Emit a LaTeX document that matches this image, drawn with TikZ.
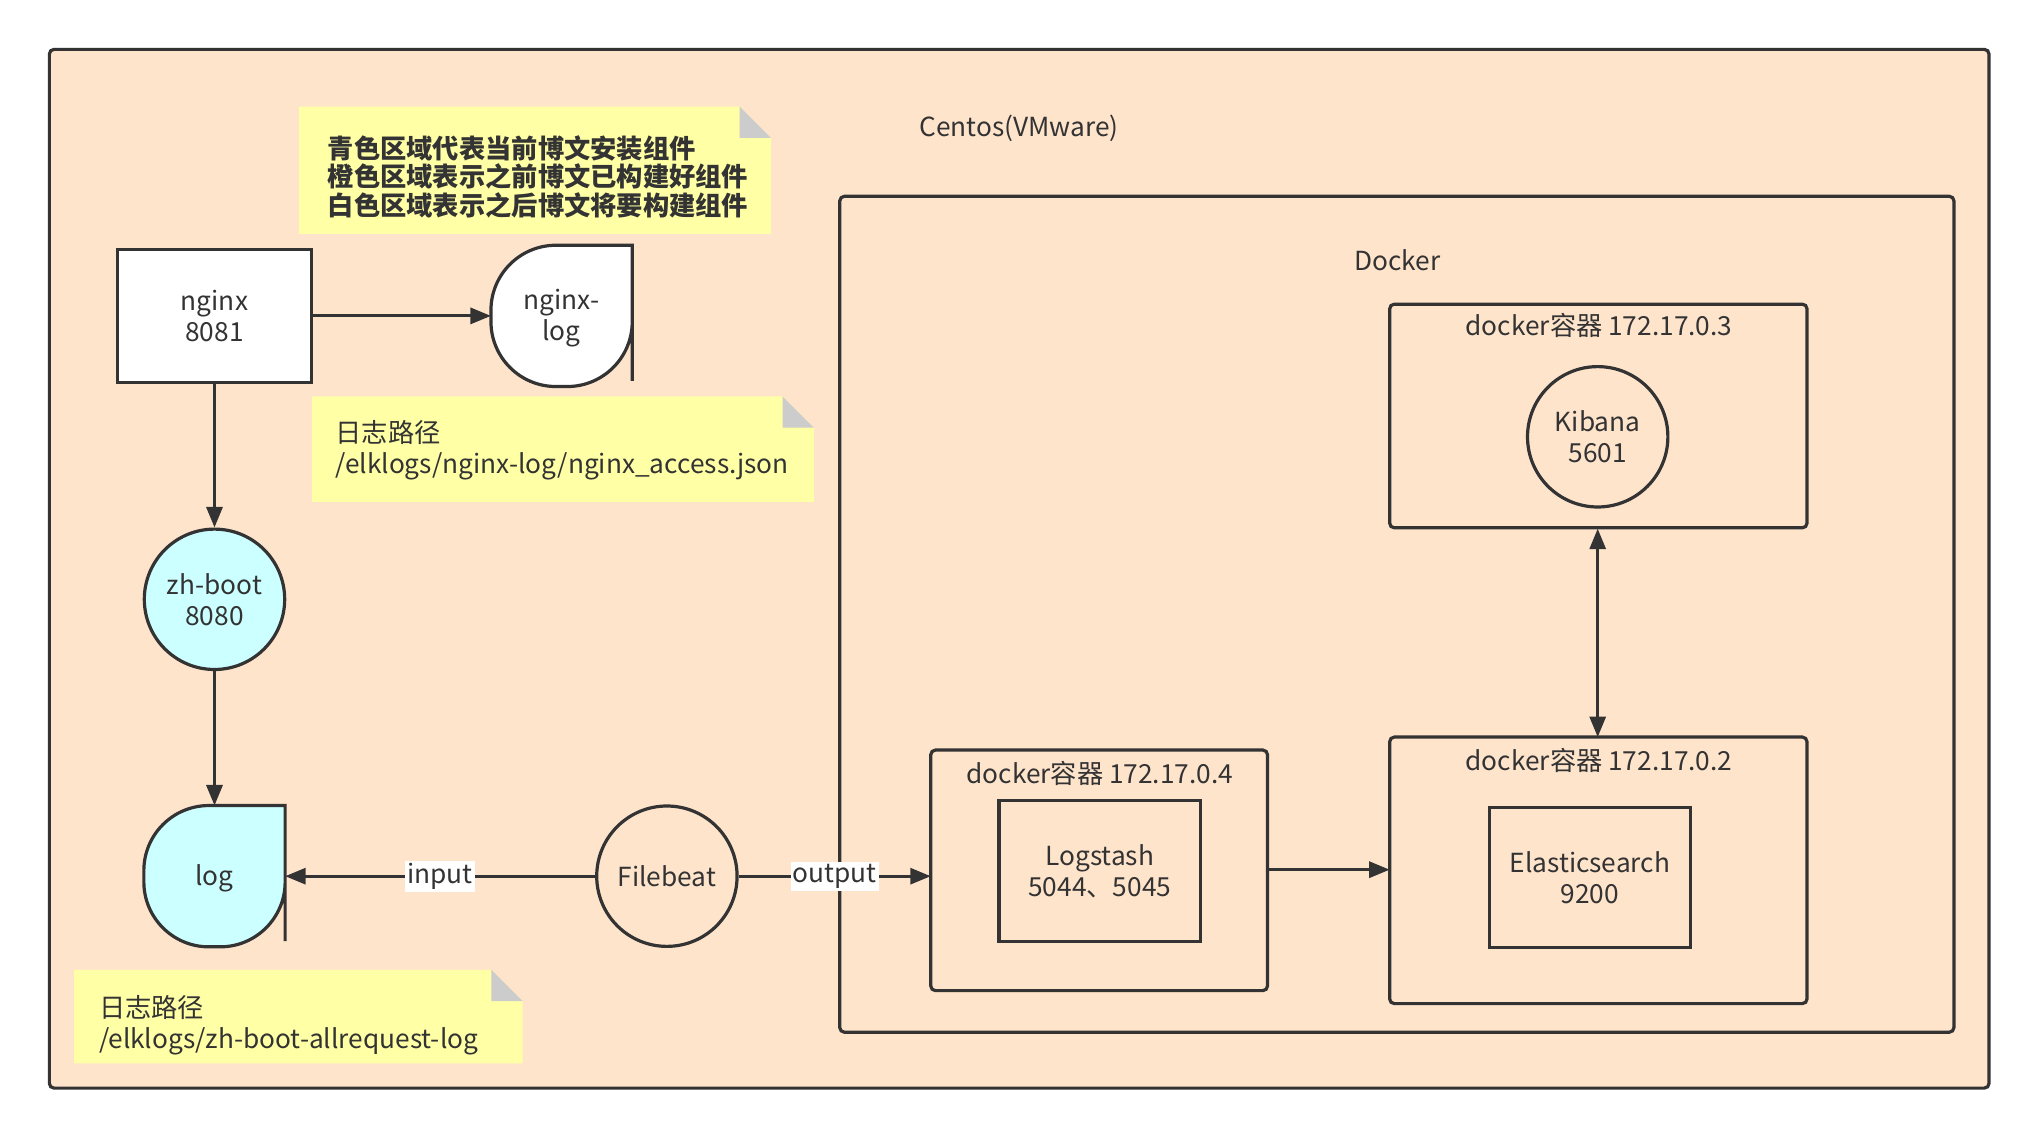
\documentclass[tikz,border=0pt]{standalone}
\usepackage{fontspec}
\setmainfont{Noto Sans CJK SC}
\usetikzlibrary{arrows.meta}
\definecolor{peach}{HTML}{FFE4CC}
\definecolor{notey}{HTML}{FFFFA6}
\definecolor{cyanf}{HTML}{CCFFFF}
\definecolor{linec}{HTML}{333333}
\begin{document}
\begin{tikzpicture}[x=0.02cm,y=-0.02cm,font=\fontsize{11.5}{13.6}\selectfont]
\tikzstyle{frame}=[draw=linec, line width=1.4pt, rounded corners=2pt]
\tikzstyle{box}=[draw=linec, line width=1.4pt, align=center, text=linec]
\tikzstyle{place}=[circle, draw=linec, line width=1.4pt, minimum size=2.16cm, align=center, text=linec]
\tikzstyle{logbox}=[minimum width=2.16cm, minimum height=2.16cm, align=center, text=linec]
\tikzstyle{arr}=[draw=linec, line width=1.4pt, -{Triangle[length=9pt,width=7pt]}]
\tikzstyle{note}=[fill=notey]
\tikzstyle{txt}=[text=linec, align=left, anchor=west]

\useasboundingbox[fill=white] (0,0) rectangle (1560,871);

% Frames
\draw[frame, fill=peach] (38,38) rectangle (1530,837);
\node at (784,99) [txt, anchor=center] (centos) {Centos(VMware)};
\draw[frame] (646,151) rectangle (1503,794);
\node at (1075,200) [txt, anchor=center] (docker) {Docker};

% Notes
\fill[note] (230,82) -- (569,82) -- (593,106) -- (593,180) -- (230,180) -- cycle;
\fill[gray!40] (569,82) -- (593,106) -- (569,106) -- cycle;
\node at (246,136) [txt, font=\fontsize{11.5}{12.5}\bfseries] (note_1) {青色区域代表当前博文安装组件\\橙色区域表示之前博文已构建好组件\\白色区域表示之后博文将要构建组件};
\fill[note] (240,305) -- (602,305) -- (626,329) -- (626,386) -- (240,386) -- cycle;
\fill[gray!40] (602,305) -- (626,329) -- (602,329) -- cycle;
\node at (252,346) [txt] (note_2) {日志路径\\/elklogs/nginx-log/nginx\_access.json};
\fill[note] (57,746) -- (378,746) -- (402,770) -- (402,818) -- (57,818) -- cycle;
\fill[gray!40] (378,746) -- (402,770) -- (378,770) -- cycle;
\node at (70,789) [txt] (note_3) {日志路径\\/elklogs/zh-boot-allrequest-log};

% Left side
\node at (165,243) [box, fill=white, minimum width=2.98cm, minimum height=2.04cm] (nginx) {nginx\\8081};
\node at (432,243) [logbox] (nginx_log) {};
\draw[line width=1.4pt, draw=linec, fill=white] (nginx_log.east) -- (nginx_log.north east) -- (nginx_log.north) [rounded corners=1cm] -- (nginx_log.north west) -- (nginx_log.south west) -- (nginx_log.south east) -- (nginx_log.east) -- cycle;
\node at (432,245) [logbox] {nginx-\\log};
\node at (165,461) [place, fill=cyanf] (zhboot) {zh-boot\\8080};
\node at (165,674) [logbox] (log) {};
\draw[line width=1.4pt, draw=linec, fill=cyanf] (log.east) -- (log.north east) -- (log.north) [rounded corners=1cm] -- (log.north west) -- (log.south west) -- (log.south east) -- (log.east) -- cycle;
\node at (165,676) [logbox] {log};
\node at (513,674) [place] (filebeat) {Filebeat};

% Containers
\draw[frame] (716,577) rectangle (975,762);
\node at (716,577) [anchor=north west, minimum width=5.18cm, minimum height=3.7cm] (cont_4) {};
\node at (846,595) [text=linec] {docker容器 172.17.0.4};
\node at (846,670) [box, minimum width=3.1cm, minimum height=2.16cm] (logstash) {Logstash\\5044、5045};
\draw[frame] (1069,567) rectangle (1390,772);
\node at (1069,567) [anchor=north west, minimum width=6.42cm, minimum height=4.1cm] (cont_2) {};
\node at (1230,585) [text=linec] {docker容器 172.17.0.2};
\node at (1223,675) [box, minimum width=3.1cm, minimum height=2.16cm] (elastic) {Elasticsearch\\9200};
\draw[frame] (1069,234) rectangle (1390,406);
\node at (1069,234) [anchor=north west, minimum width=6.42cm, minimum height=3.44cm] (cont_3) {};
\node at (1230,250) [text=linec] {docker容器 172.17.0.3};
\node at (1229,336) [place] (kibana) {Kibana\\5601};

% Arrows
\draw[arr] (nginx) -- (nginx_log);
\draw[arr] (nginx) -- (zhboot);
\draw[arr] (zhboot) -- (log);
\draw[arr] (filebeat) -- node[fill=white, inner sep=1pt, text=linec] {input} (log);
\draw[arr] (filebeat) -- node[fill=white, inner sep=1pt, text=linec, pos=0.5] {output} (cont_4.west |- filebeat);
\draw[arr] (cont_4.east |- 0,669) -- (cont_2.west |- 0,669);
\draw[arr, {Triangle[length=9pt,width=7pt]}-{Triangle[length=9pt,width=7pt]}] (cont_3.south -| kibana) -- (cont_2.north -| kibana);
\end{tikzpicture}
\end{document}
